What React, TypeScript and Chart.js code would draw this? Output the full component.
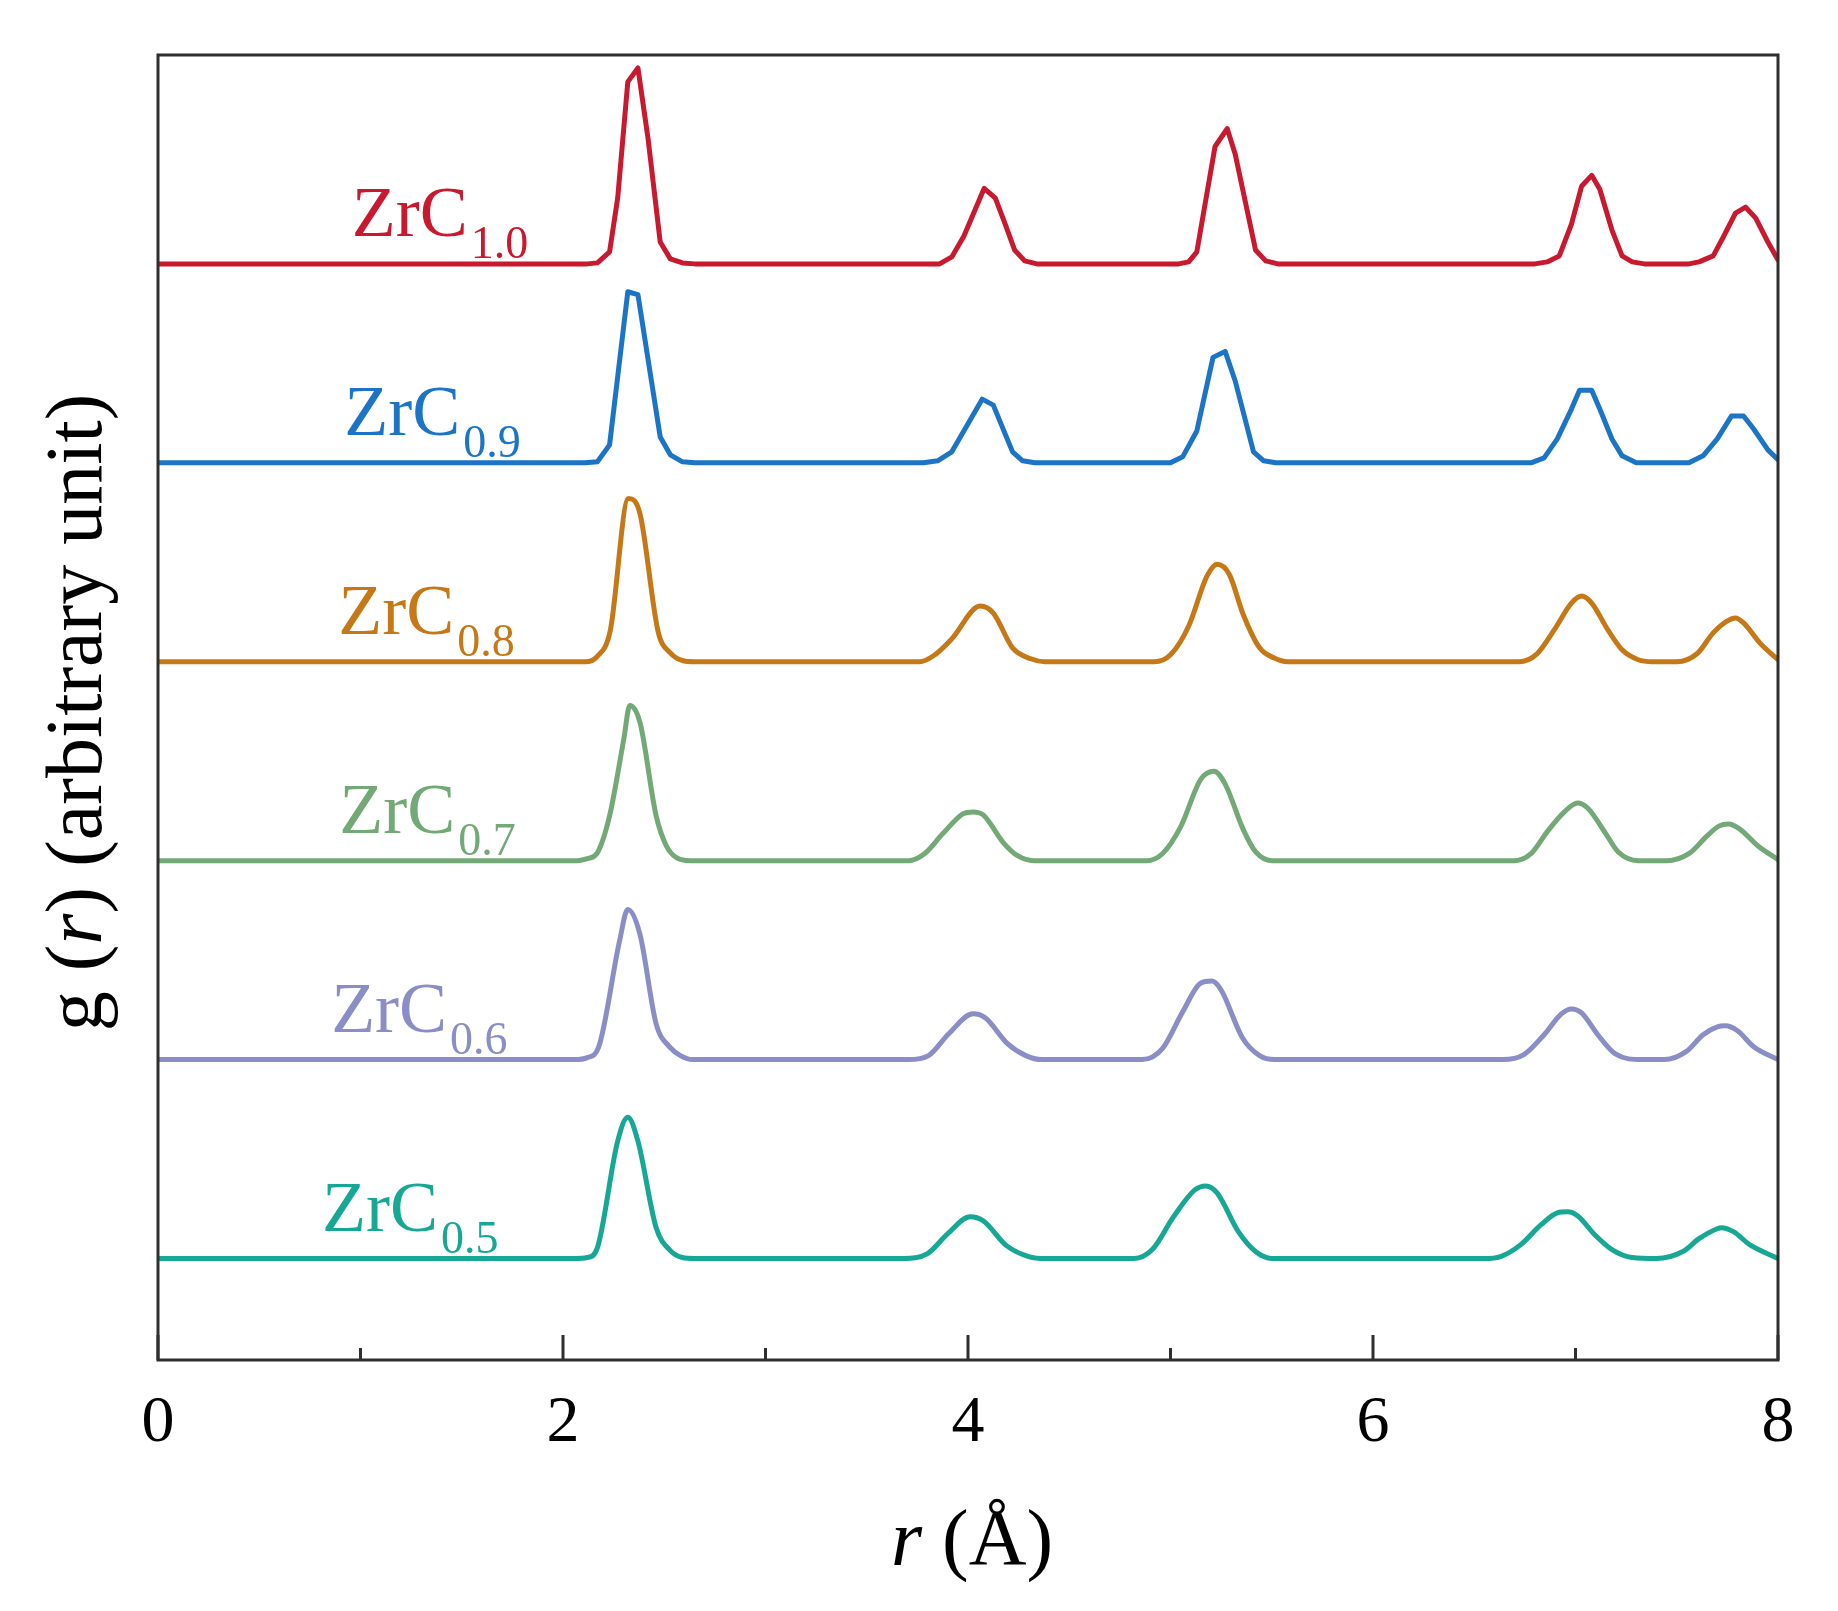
import React, { useEffect, useRef } from 'react';
import { Chart, registerables } from 'chart.js';

Chart.register(...registerables);

// ---------- data ----------
const labelMain = 'ZrC';
const labelSubs = ['1.0', '0.9', '0.8', '0.7', '0.6', '0.5'];
const offsets = [5, 4, 3, 2, 1, 0];
const colors = ['#C8192F', '#1B74C6', '#C67716', '#73A877', '#8A8DC6', '#16A795'];
const smooth = [false, false, true, true, true, true];

const xTickMarks = [0, 1, 2, 3, 4, 5, 6, 7, 8];

// ZrC1.0
const r10 = [0, 2.12, 2.17, 2.23, 2.27, 2.32, 2.37, 2.42, 2.48, 2.53, 2.59, 2.65,
  3.86, 3.92, 3.98, 4.08, 4.135, 4.18, 4.23, 4.28, 4.34,
  5.04, 5.09, 5.13, 5.22, 5.28, 5.32, 5.42, 5.47, 5.53,
  6.8, 6.86, 6.92, 6.98, 7.03, 7.08, 7.12, 7.18, 7.23, 7.28, 7.34,
  7.56, 7.61, 7.68, 7.73, 7.79, 7.84, 7.89, 7.95, 8.0];
const g10 = [0, 0, 0.005, 0.06, 0.33, 0.915, 0.985, 0.63, 0.11, 0.025, 0.005, 0,
  0, 0.035, 0.14, 0.38, 0.33, 0.21, 0.07, 0.015, 0,
  0, 0.01, 0.06, 0.59, 0.68, 0.55, 0.07, 0.015, 0,
  0, 0.01, 0.04, 0.2, 0.39, 0.445, 0.375, 0.17, 0.04, 0.01, 0,
  0, 0.01, 0.04, 0.135, 0.255, 0.285, 0.23, 0.11, 0.02];

// ZrC0.9
const r09 = [0, 2.11, 2.17, 2.23, 2.32, 2.37, 2.48, 2.53, 2.59, 2.65,
  3.78, 3.85, 3.92, 4.07, 4.125, 4.22, 4.27, 4.33,
  5.0, 5.06, 5.13, 5.21, 5.27, 5.32, 5.41, 5.46, 5.52,
  6.78, 6.845, 6.91, 6.98, 7.02, 7.08, 7.12, 7.18, 7.23, 7.3,
  7.56, 7.63, 7.7, 7.77, 7.83, 7.88, 7.95, 8.0];
const g09 = [0, 0, 0.005, 0.09, 0.86, 0.845, 0.13, 0.04, 0.005, 0,
  0, 0.01, 0.055, 0.32, 0.29, 0.055, 0.01, 0,
  0, 0.03, 0.16, 0.53, 0.56, 0.41, 0.055, 0.01, 0,
  0, 0.025, 0.12, 0.27, 0.365, 0.365, 0.27, 0.12, 0.035, 0,
  0, 0.035, 0.12, 0.235, 0.235, 0.17, 0.065, 0.015];

// ZrC0.8
const r08 = [0, 2.11, 2.167, 2.233, 2.323, 2.38, 2.47, 2.53, 2.594, 2.65,
  3.76, 3.83, 3.92, 4.06, 4.125, 4.22, 4.31, 4.38,
  4.92, 5.0, 5.09, 5.18, 5.23, 5.29, 5.36, 5.44, 5.51, 5.58,
  6.72, 6.81, 6.895, 6.98, 7.03, 7.08, 7.16, 7.23, 7.31, 7.38,
  7.5, 7.6, 7.68, 7.75, 7.79, 7.83, 7.91, 8.0];
const g08 = [0, 0, 0.025, 0.155, 0.82, 0.745, 0.15, 0.045, 0.005, 0,
  0, 0.03, 0.115, 0.28, 0.245, 0.07, 0.015, 0,
  0, 0.035, 0.18, 0.43, 0.49, 0.44, 0.235, 0.07, 0.02, 0,
  0, 0.04, 0.16, 0.295, 0.33, 0.295, 0.16, 0.06, 0.01, 0,
  0, 0.04, 0.145, 0.205, 0.22, 0.195, 0.095, 0.01];

// ZrC0.7
const r07 = [0, 2.07, 2.12, 2.17, 2.23, 2.3, 2.33, 2.38, 2.46, 2.51, 2.56, 2.63,
  3.705, 3.785, 3.875, 3.975, 4.025, 4.075, 4.175, 4.245, 4.325,
  4.88, 4.96, 5.05, 5.15, 5.215, 5.27, 5.36, 5.42, 5.5,
  6.7, 6.78, 6.86, 6.945, 7.01, 7.06, 7.15, 7.21, 7.31,
  7.45, 7.56, 7.65, 7.71, 7.755, 7.81, 7.9, 8.0];
const g07 = [0, 0, 0.01, 0.04, 0.225, 0.61, 0.78, 0.695, 0.225, 0.075, 0.015, 0,
  0, 0.035, 0.135, 0.235, 0.245, 0.23, 0.09, 0.025, 0,
  0, 0.035, 0.17, 0.41, 0.45, 0.385, 0.155, 0.045, 0,
  0, 0.035, 0.145, 0.245, 0.29, 0.265, 0.135, 0.045, 0,
  0, 0.035, 0.125, 0.175, 0.185, 0.16, 0.075, 0.005];

// ZrC0.6
const r06 = [0, 2.06, 2.12, 2.175, 2.28, 2.32, 2.38, 2.46, 2.53, 2.58, 2.64,
  3.705, 3.805, 3.905, 4.025, 4.085, 4.195, 4.285, 4.365,
  4.86, 4.96, 5.06, 5.15, 5.205, 5.25, 5.355, 5.44, 5.515,
  6.64, 6.745, 6.845, 6.93, 6.98, 7.03, 7.11, 7.195, 7.33,
  7.44, 7.546, 7.63, 7.7, 7.74, 7.8, 7.88, 8.0];
const g06 = [0, 0, 0.01, 0.06, 0.6, 0.755, 0.63, 0.18, 0.06, 0.02, 0,
  0, 0.02, 0.13, 0.23, 0.21, 0.08, 0.02, 0,
  0, 0.055, 0.24, 0.385, 0.395, 0.35, 0.11, 0.02, 0,
  0, 0.025, 0.125, 0.23, 0.255, 0.235, 0.125, 0.03, 0,
  0, 0.04, 0.125, 0.165, 0.17, 0.145, 0.065, 0];

// ZrC0.5
const r05 = [0, 2.06, 2.12, 2.17, 2.27, 2.32, 2.37, 2.46, 2.53, 2.59, 2.65,
  3.68, 3.8, 3.9, 4.01, 4.075, 4.19, 4.3, 4.38,
  4.82, 4.91, 5.015, 5.12, 5.175, 5.23, 5.335, 5.42, 5.5,
  6.55, 6.63, 6.73, 6.83, 6.91, 6.96, 7.01, 7.095, 7.18, 7.28, 7.4,
  7.53, 7.61, 7.7, 7.72, 7.78, 7.86, 8.0];
const g05 = [0, 0, 0.005, 0.055, 0.59, 0.71, 0.59, 0.155, 0.04, 0.005, 0,
  0, 0.025, 0.125, 0.21, 0.19, 0.065, 0.01, 0,
  0, 0.045, 0.21, 0.345, 0.365, 0.33, 0.135, 0.035, 0,
  0, 0.01, 0.07, 0.17, 0.23, 0.235, 0.215, 0.12, 0.045, 0.005, 0,
  0.035, 0.1, 0.15, 0.155, 0.135, 0.07, 0];

const rSeries = [r10, r09, r08, r07, r06, r05];
const gSeries = [g10, g09, g08, g07, g06, g05];

// label anchors (data units: r, and lift above each curve's baseline)
const labelR = [0.957, 0.92, 0.89, 0.895, 0.855, 0.81];
const labelLift = 0.14;

const SERIF = "'Liberation Serif', 'Times New Roman', serif";

type Part = [string, boolean];

function drawMixed(ctx: CanvasRenderingContext2D, parts: Part[], size: number, cx: number, cy: number) {
  let total = 0;
  const widths = parts.map(([t, it]) => {
    ctx.font = `${it ? 'italic ' : ''}${size}px ${SERIF}`;
    const w = ctx.measureText(t).width;
    total += w;
    return w;
  });
  let x = cx - total / 2;
  parts.forEach(([t, it], i) => {
    ctx.font = `${it ? 'italic ' : ''}${size}px ${SERIF}`;
    ctx.fillText(t, x, cy);
    x += widths[i];
  });
}

const decorPlugin = {
  id: 'decor',
  afterDatasetsDraw(chart: any) {
    const { ctx, chartArea, scales } = chart;
    const x = scales.x;
    const y = scales.y;
    ctx.save();
    // series labels
    ctx.textAlign = 'left';
    ctx.textBaseline = 'alphabetic';
    labelSubs.forEach((sub, i) => {
      const px = x.getPixelForValue(labelR[i]);
      const py = y.getPixelForValue(offsets[i] + labelLift);
      ctx.fillStyle = colors[i];
      ctx.font = `72px ${SERIF}`;
      ctx.fillText(labelMain, px, py);
      const w = ctx.measureText(labelMain).width;
      ctx.font = `46px ${SERIF}`;
      ctx.fillText(sub, px + w + 3, py + 22);
    });
    // frame
    ctx.strokeStyle = '#2f2f2f';
    ctx.lineWidth = 3;
    ctx.strokeRect(chartArea.left, chartArea.top, chartArea.right - chartArea.left, chartArea.bottom - chartArea.top);
    // inward tick marks
    xTickMarks.forEach((v) => {
      const px = x.getPixelForValue(v);
      const len = v % 2 === 0 ? 25 : 12;
      ctx.beginPath();
      ctx.moveTo(px, chartArea.bottom);
      ctx.lineTo(px, chartArea.bottom - len);
      ctx.stroke();
    });
    // axis titles
    ctx.fillStyle = '#000';
    ctx.textAlign = 'left';
    ctx.textBaseline = 'alphabetic';
    drawMixed(ctx, [['r', true], [' (Å)', false]], 80, (chartArea.left + chartArea.right) / 2 + 4, chartArea.bottom + 205);
    ctx.translate(chartArea.left - 57, (chartArea.top + chartArea.bottom) / 2 + 5);
    ctx.rotate(-Math.PI / 2);
    drawMixed(ctx, [['g (', false], ['r', true], [') (arbitrary unit)', false]], 80, 0, 0);
    ctx.restore();
  },
};

export default function App() {
  const ref = useRef<HTMLCanvasElement | null>(null);
  useEffect(() => {
    document.body.style.margin = '0';
    const canvas = ref.current;
    if (!canvas) return;
    const datasets = gSeries.map((g, i) => ({
      label: labelMain + labelSubs[i],
      data: rSeries[i].map((rv, k) => ({ x: rv, y: g[k] + offsets[i] })),
      borderColor: colors[i],
      backgroundColor: colors[i],
      borderWidth: 5,
      pointRadius: 0,
      tension: smooth[i] ? 0.4 : 0,
      cubicInterpolationMode: (smooth[i] ? 'monotone' : 'default') as any,
      borderJoinStyle: 'round' as const,
      borderCapStyle: 'round' as const,
      fill: false,
    }));
    const chart = new Chart(canvas, {
      type: 'line',
      data: { datasets },
      options: {
        animation: false,
        responsive: false,
        devicePixelRatio: 1,
        layout: { padding: { left: 158, right: 60, top: 55, bottom: 0 } },
        plugins: { legend: { display: false }, tooltip: { enabled: false } },
        scales: {
          x: {
            type: 'linear',
            min: 0,
            max: 8,
            grid: { display: false, drawTicks: false },
            border: { display: false },
            ticks: {
              stepSize: 2,
              autoSkip: false,
              maxRotation: 0,
              padding: 24,
              color: '#000',
              font: { size: 66, family: SERIF },
              callback: (v: any) => String(v),
            },
            afterFit: (s: any) => { s.height = 251; },
          },
          y: {
            type: 'linear',
            min: -0.51,
            max: 6.05,
            display: false,
          },
        },
      },
      plugins: [decorPlugin],
    });
    return () => chart.destroy();
  }, []);
  return (
    <div style={{ width: 1838, height: 1611, background: '#fff' }}>
      <canvas ref={ref} width={1838} height={1611} style={{ display: 'block' }} />
    </div>
  );
}
